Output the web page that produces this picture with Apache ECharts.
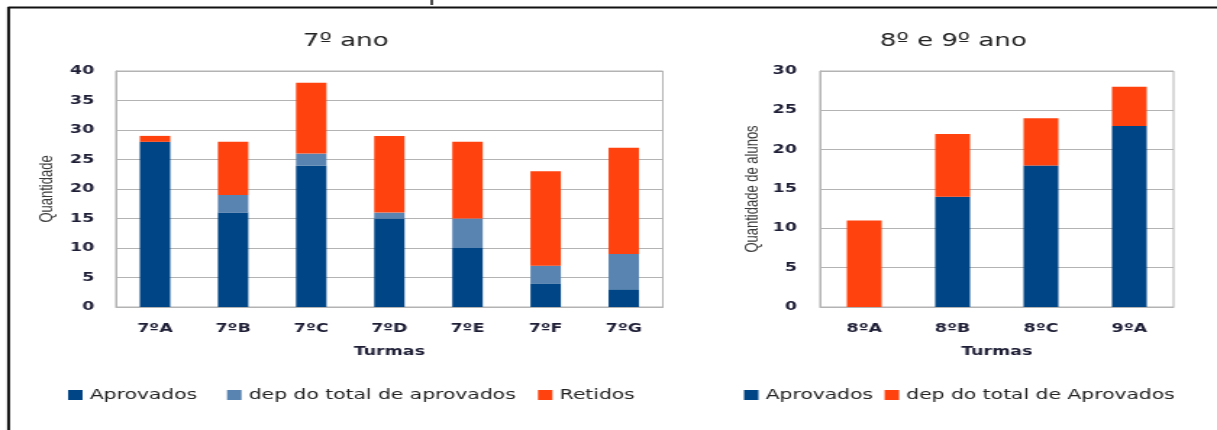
<!DOCTYPE html>
<html>
<head>
<meta charset="utf-8">
<script src="https://cdn.jsdelivr.net/npm/echarts@6/dist/echarts.min.js"></script>
<style>
html, body {
  margin: 0;
  padding: 0;
  background: #ffffff;
  overflow: hidden;
}
/* the source picture is stretched sideways, so the chart is drawn narrow and widened */
#turmas_chart {
  width: 840px;
  height: 430px;
  transform: scaleX(1.4488);
  transform-origin: 0 0;
}
</style>
</head>
<body>
<div id="turmas_chart"></div>
<script>
// 7º ano
const classes7 = ["7ºA", "7ºB", "7ºC", "7ºD", "7ºE", "7ºF", "7ºG"];
const aprovados7 = [28, 16, 24, 15, 10, 4, 3];
const dep7 = [0, 3, 2, 1, 5, 3, 6];
const retidos7 = [1, 9, 12, 13, 13, 16, 18];

// 8º e 9º ano
const classes89 = ["8ºA", "8ºB", "8ºC", "9ºA"];
const aprovados89 = [0, 14, 18, 23];
const dep89 = [11, 8, 6, 5];

const yMax7 = 40;
const yMax89 = 30;
const yStep = 5;

const dark_blue = "#004586";
const light_blue = "#5983b0";
const orange = "#ff420e";
const font = "DejaVu Sans";

const myChart = echarts.init(document.getElementById("turmas_chart"));

const tickLabel = {
  fontFamily: font,
  fontSize: 12,
  fontWeight: "bold",
  color: "#1e1e36",
};
const axisNameStyle = {
  fontFamily: "Liberation Sans",
  fontSize: 13,
  color: "#3a3a3a",
};
const turmasStyle = {
  fontFamily: font,
  fontSize: 12,
  fontWeight: "bold",
  color: "#1e1e36",
};
const legendText = {
  fontFamily: font,
  fontSize: 14,
  color: "#222222",
};
const gridLine = { lineStyle: { color: "#b3b3b3", width: 1 } };

function legendAt(left, names, gap) {
  return {
    left: left,
    top: 388,
    orient: "horizontal",
    icon: "rect",
    itemWidth: 10,
    itemHeight: 10,
    itemGap: gap,
    padding: 0,
    textStyle: legendText,
    data: names,
  };
}

const option = {
  animation: false,
  backgroundColor: "#ffffff",
  title: [
    {
      text: "7º ano",
      left: 238.6,
      top: 32,
      textAlign: "center",
      padding: 0,
      textStyle: { fontFamily: font, fontSize: 18, fontWeight: "normal", color: "#222222" },
    },
    {
      text: "8º e 9º ano",
      left: 658,
      top: 32,
      textAlign: "center",
      padding: 0,
      textStyle: { fontFamily: font, fontSize: 18, fontWeight: "normal", color: "#222222" },
    },
  ],
  legend: [
    legendAt(47, ["Aprovados"], 0),
    legendAt(156.7, ["dep do total de aprovados"], 0),
    legendAt(371.3, ["Retidos"], 0),
    legendAt(513.5, ["Aprovados", "dep do total de Aprovados"], 8),
  ],
  grid: [
    { left: 80, top: 71, width: 377.5, height: 236, show: true, borderColor: "#b3b3b3", borderWidth: 1 },
    { left: 566, top: 71, width: 244, height: 236, show: true, borderColor: "#b3b3b3", borderWidth: 1 },
  ],
  xAxis: [
    {
      gridIndex: 0,
      type: "category",
      data: classes7,
      name: "Turmas",
      nameLocation: "middle",
      nameGap: 39,
      nameTextStyle: turmasStyle,
      axisLine: gridLine,
      axisTick: { show: false },
      axisLabel: Object.assign({ margin: 16, interval: 0 }, tickLabel),
    },
    {
      gridIndex: 1,
      type: "category",
      data: classes89,
      name: "Turmas",
      nameLocation: "middle",
      nameGap: 39,
      nameTextStyle: turmasStyle,
      axisLine: gridLine,
      axisTick: { show: false },
      axisLabel: Object.assign({ margin: 16, interval: 0 }, tickLabel),
    },
  ],
  yAxis: [
    {
      gridIndex: 0,
      type: "value",
      min: 0,
      max: yMax7,
      interval: yStep,
      name: "Quantidade",
      nameLocation: "middle",
      nameRotate: 90,
      nameGap: 41,
      nameTextStyle: axisNameStyle,
      axisLine: { show: true, lineStyle: { color: "#b3b3b3" } },
      axisTick: { show: false },
      splitLine: gridLine,
      axisLabel: Object.assign({ margin: 15 }, tickLabel),
    },
    {
      gridIndex: 1,
      type: "value",
      min: 0,
      max: yMax89,
      interval: yStep,
      name: "Quantidade de alunos",
      nameLocation: "middle",
      nameRotate: 90,
      nameGap: 40,
      nameTextStyle: axisNameStyle,
      axisLine: { show: true, lineStyle: { color: "#b3b3b3" } },
      axisTick: { show: false },
      splitLine: gridLine,
      axisLabel: Object.assign({ margin: 16 }, tickLabel),
    },
  ],
  series: [
    {
      name: "Aprovados",
      type: "bar",
      stack: "ano7",
      xAxisIndex: 0,
      yAxisIndex: 0,
      barWidth: 21,
      color: dark_blue,
      data: aprovados7,
    },
    {
      name: "dep do total de aprovados",
      type: "bar",
      stack: "ano7",
      xAxisIndex: 0,
      yAxisIndex: 0,
      barWidth: 21,
      color: light_blue,
      data: dep7,
    },
    {
      name: "Retidos",
      type: "bar",
      stack: "ano7",
      xAxisIndex: 0,
      yAxisIndex: 0,
      barWidth: 21,
      color: orange,
      data: retidos7,
    },
    {
      name: "Aprovados",
      type: "bar",
      stack: "ano89",
      xAxisIndex: 1,
      yAxisIndex: 1,
      barWidth: 24,
      color: dark_blue,
      data: aprovados89,
    },
    {
      name: "dep do total de Aprovados",
      type: "bar",
      stack: "ano89",
      xAxisIndex: 1,
      yAxisIndex: 1,
      barWidth: 24,
      color: orange,
      data: dep89,
    },
  ],
  // frame of the screenshot: top and left edge, plus the cut-off mark above it
  graphic: [
    { type: "line", shape: { x1: 5.5, y1: 7.5, x2: 840, y2: 7.5 }, style: { stroke: "#111111", lineWidth: 2 } },
    { type: "line", shape: { x1: 5.9, y1: 7, x2: 5.9, y2: 430 }, style: { stroke: "#111111", lineWidth: 2 } },
    { type: "line", shape: { x1: 298, y1: 0, x2: 298, y2: 5 }, style: { stroke: "#111111", lineWidth: 1.5 } },
  ],
};

myChart.setOption(option, true);
</script>
</body>
</html>
